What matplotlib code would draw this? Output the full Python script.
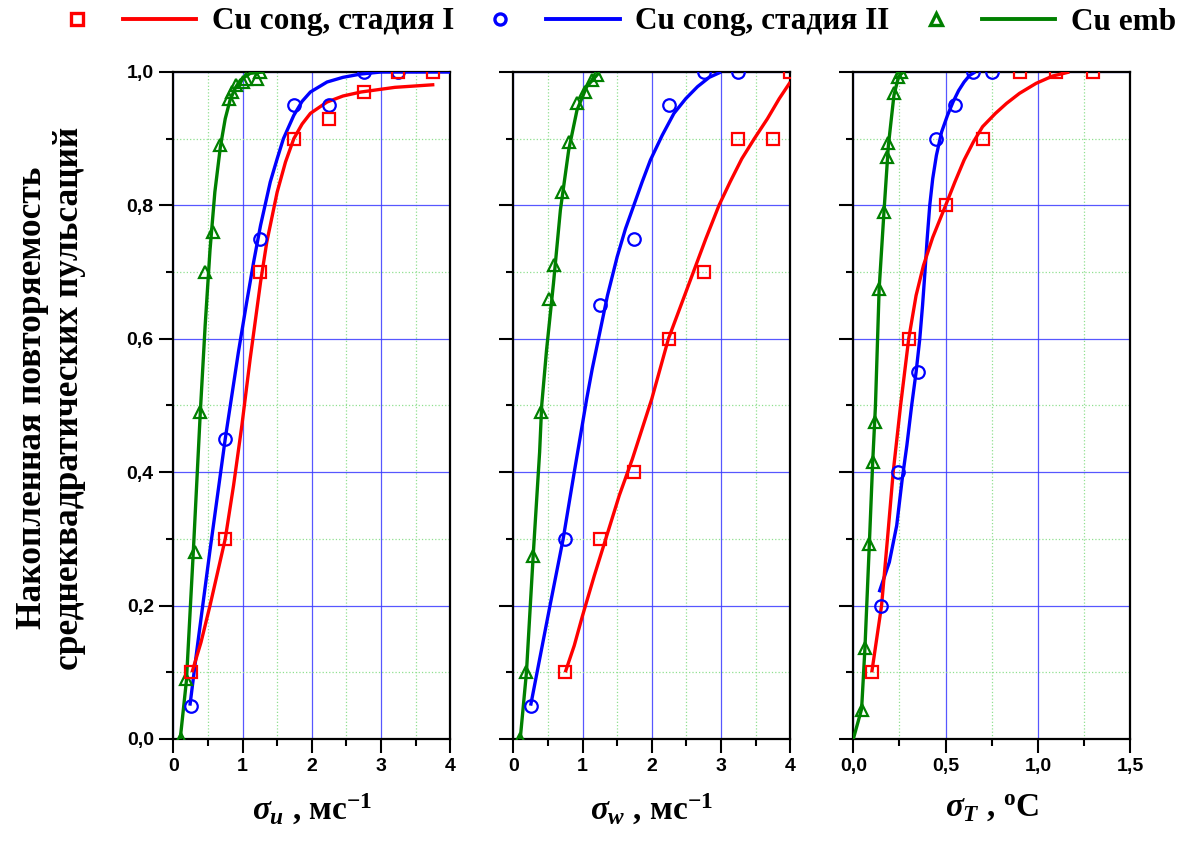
import numpy as np
import matplotlib
matplotlib.use('Agg')
import matplotlib.pyplot as plt
from matplotlib.ticker import MultipleLocator, FuncFormatter, NullFormatter
from matplotlib.legend_handler import HandlerTuple
from matplotlib.lines import Line2D

plt.rcParams['mathtext.fontset'] = 'custom'
plt.rcParams['mathtext.rm'] = 'Liberation Serif:bold'
plt.rcParams['mathtext.it'] = 'Liberation Serif:italic:bold'
plt.rcParams['mathtext.bf'] = 'Liberation Serif:bold'

# %% data
# sigma_u panel
red_u_x = [0.25, 0.75, 1.25, 1.75, 2.25, 2.75, 3.25, 3.75]
red_u_y = [0.10, 0.30, 0.70, 0.90, 0.93, 0.97, 1.00, 1.00]
red_u_fit_x = [0.27, 0.40, 0.53, 0.64, 0.75, 0.87, 0.99, 1.11, 1.26, 1.35, 1.50, 1.62, 1.74, 1.86, 1.98, 2.22, 2.45, 2.71, 3.20, 3.77]
red_u_fit_y = [0.10, 0.145, 0.20, 0.25, 0.30, 0.38, 0.47, 0.57, 0.685, 0.745, 0.82, 0.865, 0.90, 0.922, 0.938, 0.955, 0.964, 0.970, 0.977, 0.981]

blue_u_x = [0.25, 0.75, 1.25, 1.75, 2.25, 2.75, 3.25]
blue_u_y = [0.05, 0.45, 0.75, 0.95, 0.95, 1.00, 1.00]
blue_u_fit_x = [0.24, 0.34, 0.53, 0.75, 0.94, 1.06, 1.16, 1.26, 1.40, 1.50, 1.59, 1.74, 1.86, 1.98, 2.22, 2.45, 2.71, 3.00, 3.40, 4.00]
blue_u_fit_y = [0.05, 0.133, 0.283, 0.45, 0.58, 0.655, 0.715, 0.77, 0.835, 0.87, 0.90, 0.935, 0.956, 0.970, 0.985, 0.992, 0.997, 1.00, 1.00, 1.00]

green_u_x = [0.11, 0.19, 0.31, 0.39, 0.46, 0.58, 0.68, 0.80, 0.85, 0.90, 1.00, 1.05, 1.21, 1.25]
green_u_y = [0.00, 0.09, 0.28, 0.49, 0.70, 0.76, 0.89, 0.96, 0.97, 0.98, 0.985, 0.99, 0.99, 1.00]
green_u_fit_x = [0.10, 0.19, 0.29, 0.39, 0.46, 0.53, 0.60, 0.68, 0.75, 0.82, 0.90, 0.97, 1.11, 1.30]
green_u_fit_y = [0.00, 0.088, 0.283, 0.49, 0.62, 0.733, 0.82, 0.888, 0.93, 0.958, 0.977, 0.988, 0.998, 1.00]

# sigma_w panel
red_w_x = [0.75, 1.25, 1.75, 2.25, 2.75, 3.25, 3.75, 4.00]
red_w_y = [0.10, 0.30, 0.40, 0.60, 0.70, 0.90, 0.90, 1.00]
red_w_fit_x = [0.75, 0.88, 1.00, 1.17, 1.35, 1.53, 1.72, 1.86, 2.00, 2.12, 2.24, 2.42, 2.60, 2.78, 2.97, 3.13, 3.30, 3.48, 3.67, 3.84, 4.00]
red_w_fit_y = [0.10, 0.14, 0.185, 0.245, 0.305, 0.365, 0.42, 0.465, 0.51, 0.555, 0.60, 0.65, 0.70, 0.75, 0.80, 0.835, 0.87, 0.90, 0.93, 0.96, 0.985]

blue_w_x = [0.25, 0.75, 1.25, 1.75, 2.25, 2.75, 3.25]
blue_w_y = [0.05, 0.30, 0.65, 0.75, 0.95, 1.00, 1.00]
blue_w_fit_x = [0.25, 0.53, 0.72, 0.88, 1.06, 1.14, 1.23, 1.36, 1.50, 1.62, 1.74, 1.86, 1.98, 2.15, 2.32, 2.49, 2.66, 2.83, 3.00]
blue_w_fit_y = [0.05, 0.20, 0.30, 0.40, 0.51, 0.555, 0.60, 0.665, 0.723, 0.765, 0.80, 0.835, 0.868, 0.905, 0.938, 0.96, 0.978, 0.992, 1.00]

green_w_x = [0.10, 0.19, 0.29, 0.40, 0.51, 0.59, 0.70, 0.80, 0.92, 1.04, 1.14, 1.21]
green_w_y = [0.00, 0.10, 0.275, 0.49, 0.66, 0.71, 0.82, 0.895, 0.953, 0.97, 0.988, 0.995]
green_w_fit_x = [0.10, 0.19, 0.29, 0.38, 0.41, 0.48, 0.58, 0.68, 0.80, 0.92, 1.06, 1.23]
green_w_fit_y = [0.00, 0.10, 0.28, 0.43, 0.50, 0.583, 0.683, 0.793, 0.883, 0.943, 0.978, 0.998]

# sigma_T panel
red_t_x = [0.10, 0.30, 0.50, 0.70, 0.90, 1.10, 1.30]
red_t_y = [0.10, 0.60, 0.80, 0.90, 1.00, 1.00, 1.00]
red_t_fit_x = [0.10, 0.153, 0.185, 0.216, 0.256, 0.30, 0.34, 0.38, 0.43, 0.50, 0.55, 0.60, 0.65, 0.70, 0.77, 0.83, 0.90, 0.99, 1.08, 1.17]
red_t_fit_y = [0.10, 0.20, 0.30, 0.40, 0.50, 0.60, 0.665, 0.71, 0.752, 0.80, 0.835, 0.868, 0.895, 0.918, 0.938, 0.953, 0.968, 0.983, 0.994, 1.00]

blue_t_x = [0.15, 0.24, 0.35, 0.45, 0.55, 0.65, 0.75]
blue_t_y = [0.20, 0.40, 0.55, 0.90, 0.95, 1.00, 1.00]
blue_t_fit_x = [0.14, 0.195, 0.235, 0.265, 0.29, 0.316, 0.34, 0.36, 0.375, 0.388, 0.40, 0.414, 0.43, 0.45, 0.478, 0.51, 0.54, 0.57, 0.60, 0.63, 0.66]
blue_t_fit_y = [0.22, 0.265, 0.32, 0.39, 0.44, 0.50, 0.55, 0.60, 0.65, 0.70, 0.75, 0.80, 0.84, 0.875, 0.91, 0.935, 0.955, 0.972, 0.985, 0.995, 1.00]

green_t_x = [0.045, 0.063, 0.087, 0.105, 0.117, 0.14, 0.166, 0.18, 0.19, 0.22, 0.24, 0.26]
green_t_y = [0.043, 0.136, 0.293, 0.415, 0.475, 0.675, 0.79, 0.873, 0.893, 0.968, 0.993, 1.00]
green_t_fit_x = [0.0, 0.045, 0.063, 0.087, 0.105, 0.12, 0.14, 0.166, 0.19, 0.22, 0.245, 0.27]
green_t_fit_y = [0.0, 0.045, 0.136, 0.293, 0.415, 0.50, 0.675, 0.79, 0.89, 0.965, 0.993, 1.00]

series_names = ['Cu cong, стадия I', 'Cu cong, стадия II', 'Cu emb']
x_labels = [r'$\sigma_u$ , мс$^{-1}$', r'$\sigma_w$ , мс$^{-1}$', r'$\sigma_T$ , $^{\rm o}$C']
y_label_lines = ['Накопленная повторяемость', 'среднеквадратических пульсаций']

# %% style
RED, BLUE, GREEN = '#ff0000', '#0000ff', '#008000'
LW = 2.4
MS = 9
MEW = 1.6
serif = 'Liberation Serif'
sans = 'Liberation Sans'

panels = [
    dict(xmax=4, xmajor=1, xminor=0.5, fmt=lambda v, p: f'{v:.0f}',
         red=(red_u_x, red_u_y, red_u_fit_x, red_u_fit_y),
         blue=(blue_u_x, blue_u_y, blue_u_fit_x, blue_u_fit_y),
         green=(green_u_x, green_u_y, green_u_fit_x, green_u_fit_y)),
    dict(xmax=4, xmajor=1, xminor=0.5, fmt=lambda v, p: f'{v:.0f}',
         red=(red_w_x, red_w_y, red_w_fit_x, red_w_fit_y),
         blue=(blue_w_x, blue_w_y, blue_w_fit_x, blue_w_fit_y),
         green=(green_w_x, green_w_y, green_w_fit_x, green_w_fit_y)),
    dict(xmax=1.5, xmajor=0.5, xminor=0.25, fmt=lambda v, p: f'{v:.1f}'.replace('.', ','),
         red=(red_t_x, red_t_y, red_t_fit_x, red_t_fit_y),
         blue=(blue_t_x, blue_t_y, blue_t_fit_x, blue_t_fit_y),
         green=(green_t_x, green_t_y, green_t_fit_x, green_t_fit_y)),
]
lefts = [173.3, 513.3, 853.3]
W, H = 1197, 841

fig = plt.figure(figsize=(W / 100, H / 100), dpi=100)

for i, p in enumerate(panels):
    ax = fig.add_axes([lefts[i] / W, (H - 739) / H, 277 / W, 667 / H])
    ax.set_xlim(0, p['xmax'])
    ax.set_ylim(0, 1)
    ax.xaxis.set_major_locator(MultipleLocator(p['xmajor']))
    ax.xaxis.set_minor_locator(MultipleLocator(p['xminor']))
    ax.yaxis.set_major_locator(MultipleLocator(0.2))
    ax.yaxis.set_minor_locator(MultipleLocator(0.1))
    ax.xaxis.set_major_formatter(FuncFormatter(p['fmt']))
    if i == 0:
        ax.yaxis.set_major_formatter(FuncFormatter(lambda v, pos: f'{v:.1f}'.replace('.', ',')))
    else:
        ax.yaxis.set_major_formatter(NullFormatter())
    ax.grid(which='major', color='#3a3aff', lw=0.9, alpha=0.85)
    ax.grid(which='minor', color='#90e090', lw=0.9, ls=':')
    ax.set_axisbelow(True)
    for s in ax.spines.values():
        s.set_linewidth(1.6)
    ax.tick_params(which='major', direction='out', length=10, width=1.5,
                   labelsize=14, pad=4, top=False, right=False)
    ax.tick_params(which='minor', direction='out', length=5, width=1.5, top=False, right=False)
    for lab in ax.get_xticklabels() + ax.get_yticklabels():
        lab.set_fontfamily(sans)
        lab.set_fontweight('bold')

    for key, col, mk in [('green', GREEN, '^'), ('blue', BLUE, 'o'), ('red', RED, 's')]:
        mx, my, fx, fy = p[key]
        ax.plot(fx, fy, color=col, lw=LW, solid_capstyle='butt', solid_joinstyle='round', zorder=3)
        ax.plot(mx, my, ls='none', marker=mk, ms=MS if mk != 's' else MS - 1,
                mfc='none', mec=col, mew=MEW, zorder=4, clip_on=True)

    ax.set_xlabel(x_labels[i], fontsize=24, fontfamily=serif, fontweight='bold', labelpad=12)

# y label (two lines)
fig.text(33 / W, 1 - 398 / H, y_label_lines[0], rotation=90, ha='center', va='center',
         fontsize=25.5, fontfamily=serif, fontweight='bold')
fig.text(70 / W, 1 - 398 / H, y_label_lines[1], rotation=90, ha='center', va='center',
         fontsize=25.5, fontfamily=serif, fontweight='bold')

# legend: marker + line side by side
handles = []
for col, mk in [(RED, 's'), (BLUE, 'o'), (GREEN, '^')]:
    m = Line2D([], [], ls='none', marker=mk, ms=MS - 1, mfc='none', mec=col, mew=MEW + 0.8)
    l = Line2D([], [], color=col, lw=LW + 0.4)
    handles.append((m, l))
fig.legend(handles, series_names, loc='center', bbox_to_anchor=(608 / W, 1 - 22 / H),
           ncol=3, frameon=False, handler_map={tuple: HandlerTuple(ndivide=None, pad=0.3)},
           handlelength=5.0, handletextpad=0.5, columnspacing=0.3,
           prop={'family': serif, 'weight': 'bold', 'size': 22.5})

fig.savefig('out.png', dpi=100)
